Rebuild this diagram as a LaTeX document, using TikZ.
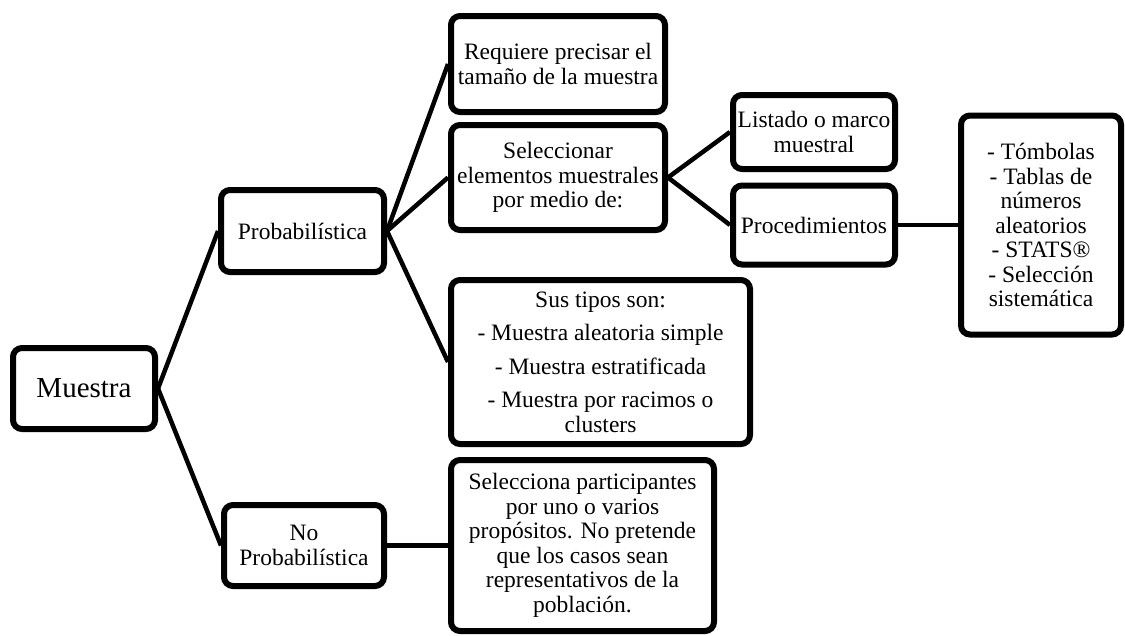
\documentclass[tikz,border=0pt]{standalone}
\usepackage{fontspec}
\setmainfont{Liberation Serif}
\usepackage{tikz}
\usetikzlibrary{positioning,shadows}
\tikzset{block/.style={draw,line width=6pt,rounded corners=9pt,fill=white,align=center,inner sep=0pt,
                       font=\fontsize{23.5}{24.5}\selectfont,
                       drop shadow={opacity=0.25,shadow xshift=1.5pt,shadow yshift=-2.5pt}},
         conn/.style={line width=4.5pt}
}

\begin{document}
\begin{tikzpicture}[x=1pt,y=-1pt]
\useasboundingbox (0,0) rectangle (1125,635);

\node[block,minimum width=142pt,minimum height=81pt,font=\fontsize{29}{30}\selectfont] (muestra) at (84,388.5) {Muestra};
\node[block,minimum width=163pt,minimum height=82pt] (prob) at (302.5,231) {Probabilística};
\node[block,minimum width=160pt,minimum height=81pt] (noprob) at (304,545.5) {No\\Probabilística};
\node[block,minimum width=214pt,minimum height=96pt] (requiere) at (558,64) {Requiere precisar el\\tamaño de la muestra};
\node[block,minimum width=214pt,minimum height=105pt] (selec) at (558,177.5) {Seleccionar\\elementos muestrales\\por medio de:};
\node[block,minimum width=299pt,minimum height=164pt] (tipos) at (600.5,362) {Sus tipos son:\\[9pt]- Muestra aleatoria simple\\[9pt]- Muestra estratificada\\[9pt]- Muestra por racimos o\\clusters};
\node[block,minimum width=263pt,minimum height=171pt] (noprobdesc) at (582.5,545.5) {Selecciona participantes\\por uno o varios\\propósitos. No pretende\\que los casos sean\\representativos de la\\población.};
\node[block,minimum width=162pt,minimum height=74pt] (listado) at (814,132) {Listado o marco\\muestral};
\node[block,minimum width=162pt,minimum height=79pt] (proced) at (814,225) {Procedimientos};
\node[block,minimum width=160pt,minimum height=219pt] (tecnicas) at (1041,225) {- Tómbolas\\- Tablas de\\números\\aleatorios\\- STATS®\\- Selección\\sistemática};

\draw[conn] (muestra.east)--(prob.west);
\draw[conn] (muestra.east)--(noprob.west);
\draw[conn] (prob.east)--(requiere.west);
\draw[conn] (prob.east)--(selec.west);
\draw[conn] (prob.east)--(tipos.west);
\draw[conn] (selec.east)--(listado.west);
\draw[conn] (selec.east)--(proced.west);
\draw[conn] (proced.east)--(tecnicas.west);
\draw[conn] (noprob.east)--(noprobdesc.west);

\end{tikzpicture}
\end{document}
